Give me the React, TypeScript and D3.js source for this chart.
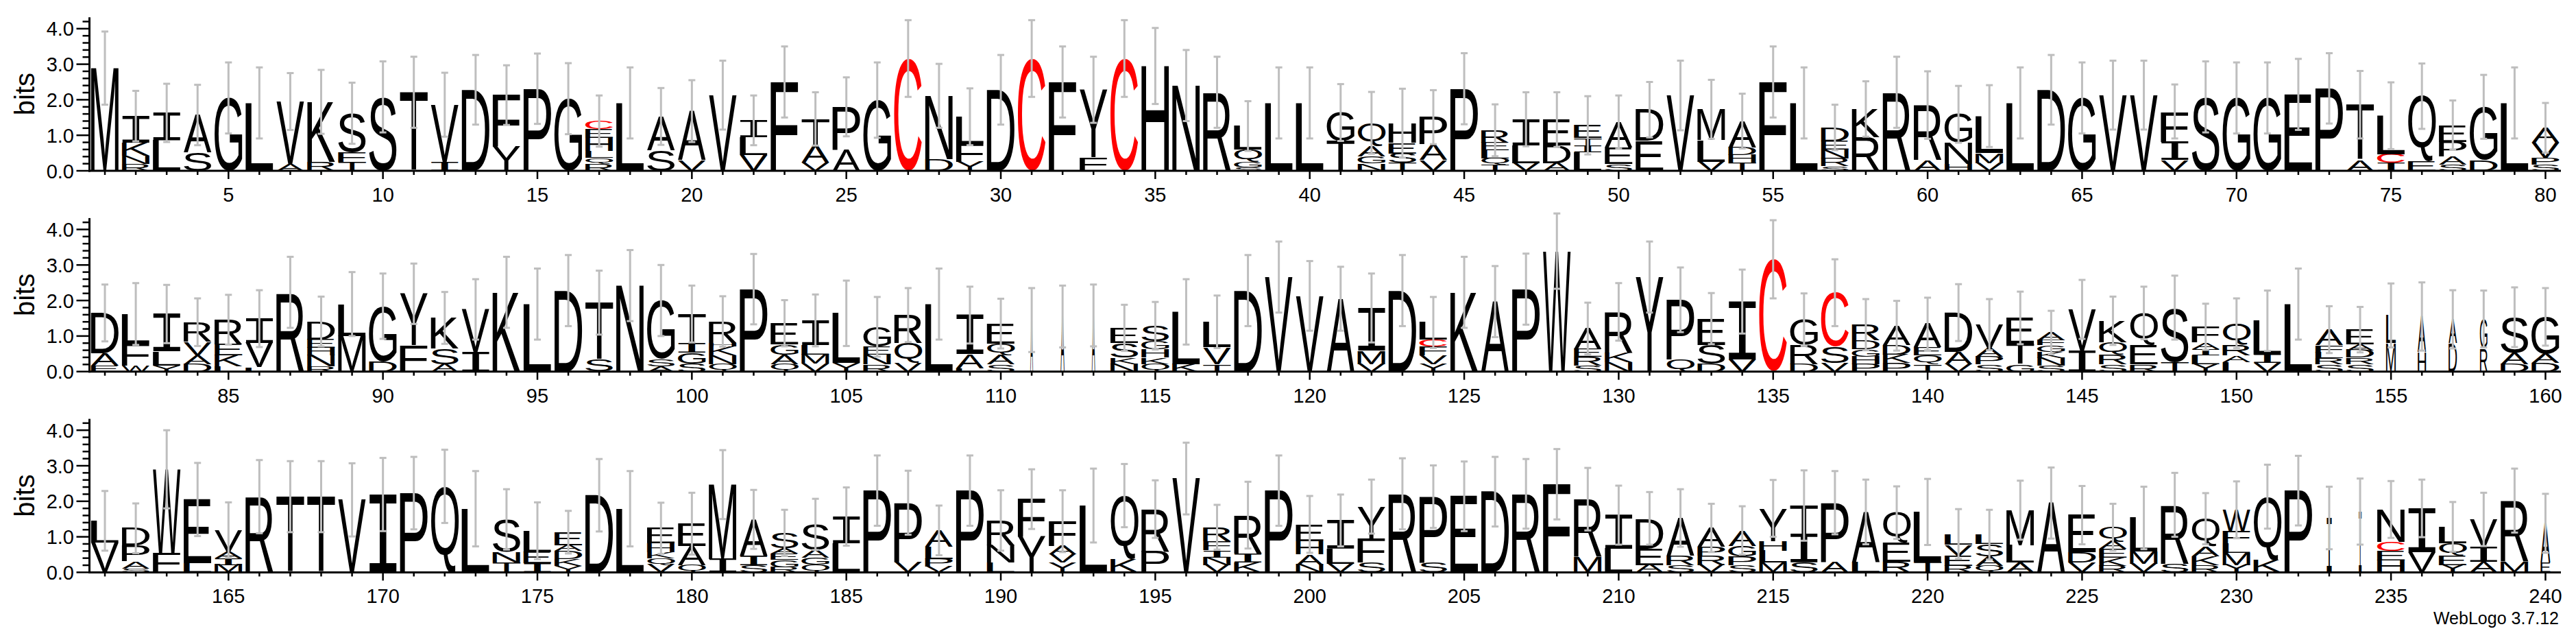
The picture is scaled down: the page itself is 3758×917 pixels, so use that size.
import React, { useMemo } from 'react';
import * as d3 from 'd3';

// Each column: letters bottom -> top, letter followed by its height in bits
const stacksRow1 = [
  'M2.89', 'R.2 N.22 K.38 I.74', 'L.86 I.77', 'S.52 A1.05', 'G2.05', 'L1.91', 'A.2 V1.75', 'R.26 K1.68', 'T.26 F.26 S1.1', 'S2.08',
  'T2.21', 'I.26 V1.6', 'D2.28', 'Y.68 F1.45', 'P2.31', 'G2.03', 'R.2 Q.16 L.2 H.37 E.25 C.22', 'L1.91', 'S.58 A.95', 'V.3 A1.38',
  'V2.13', 'V.45 L.5 I.47', 'F2.5', 'V.23 A.48 T.75', 'A.6 P1.2', 'G1.99', 'C3.16', 'D.33 N1.78', 'Y.26 F.5 L.76', 'D2.28',
  'C3.16', 'F2.5', 'F.38 Y1.9', 'C3.16', 'H2.95', 'N2.4', 'R2.21', 'S.1 G.15 Q.35 L.66', 'L1.91', 'L1.91',
  'T.84 G.8', 'N.2 G.2 A.3 Q.65', 'T.22 S.27 E.3 H.55', 'V.3 A.45 P.76', 'P2.31', 'T.17 Q.18 L.23 E.22 R.34', 'V.22 L.5 I.73', 'A.21 D.5 E.73', 'L.52 I.2 T.2 E.36', 'S.19 E.46 A.72',
  'E.84 D.88', 'V2.12', 'V.26 L.6 M.87', 'T.23 H.21 D.22 A.74', 'F2.5', 'L1.91', 'S.13 R.22 N.24 E.24 D.39', 'R.94 K.8', 'R2.21', 'A.3 R1.55',
  'H.19 N.6 G.8', 'V.22 M.28 L1.04', 'L1.91', 'D2.28', 'G2.05', 'V2.13', 'V2.13', 'V.3 I.52 F.85', 'S2.08', 'G2.05',
  'G2.05', 'E2.15', 'P2.32', 'A.3 T1.56', 'I.23 C.24 L1.08', 'E.26 Q1.84', 'S.17 A.23 P.42 E.47', 'D.3 G1.5', 'L1.91', 'S.17 P.2 V.43 A.41',
];
const stacksRow2 = [
  'E.17 A.34 D1.14', 'W.17 F.61 L.84', 'Y.17 L.4 I1.05', 'D.21 A.25 V.38 R.55', 'L.15 K.31 E.31 R.69', 'L.12 V.68 I.69', 'R2.23', 'R.15 N.31 H.21 E.24 D.5', 'M1.0 L.9', 'D.29 G1.55',
  'F.74 Y1.45', 'A.21 S.44 K.86', 'I.55 V1.2', 'K2.23', 'L1.9', 'D2.28', 'S.34 T1.6', 'N2.42', 'A.15 S.2 G1.65', 'S.22 G.31 I.28 T.81',
  'Q.21 N.25 K.24 H.1 R.61', 'P2.32', 'Q.21 A.26 G.29 E.6', 'V.22 M.26 L.27 I.69', 'Y.24 L1.4', 'R.21 N.26 E.23 G.56', 'V.24 Q.56 R.79', 'L1.9', 'L.1 A.39 I1.1', 'S.21 A.26 Q.32 E.56',
  'A1.45', 'A1.55', 'A1.58', 'N.21 K.18 S.42 E.42', 'Q.21 K.18 H.23 G.23 S.44', 'K.21 L1.47', 'T.21 V.47 L.72', 'D2.28', 'V2.66', 'V2.13',
  'A2.05', 'V.21 M.38 I1.2', 'D2.28', 'Y.21 V.25 F.24 C.2 L.48', 'K2.23', 'A1.97', 'P2.32', 'W3.39', 'S.17 R.24 E.22 A.58', 'N.27 K.27 R1.14',
  'Y2.66', 'Q.34 P1.68', 'D.21 S.54 E.74', 'V.34 I1.63', 'C3.16', 'D.21 R.54 G.71', 'V.24 S.46 C1.52', 'P.21 H.21 G.21 D.25 R.44', 'P.24 K.24 D.27 A.54', 'T.21 Q.25 E.22 A.66',
  'V.21 A.34 D1.11', 'S.21 P.21 A.24 V.66', 'G.21 T.57 E.73', 'S.17 N.21 K.18 G.18 F.15 A.21', 'I.6 V1.15', 'S.21 R.28 Q.34 K.6', 'R.21 E.54 Q.9', 'T.27 S1.53', 'Y.21 L.25 I.18 A.18 F.44', 'L.27 A.18 R.31 Q.6',
  'V.24 I.24 L.95', 'L1.9', 'S.21 R.17 L.16 F.2 A.44', 'S.21 R.18 D.21 A.16 E.42', 'M.8 L.78', 'H.55 A1.0', 'D.8 A.67', 'R.66 G.82', 'D.21 A.31 S1.01', 'D.24 A.27 G1.03',
];
const stacksRow3 = [
  'V.83 L.62', 'S.11 A.2 P.45 D.48', 'F.55 W2.35', 'L.25 E1.8', 'M.21 I.19 A.19 V.6', 'R2.13', 'T2.13', 'T2.13', 'V2.04', 'I2.19',
  'P2.23', 'Q2.42', 'L1.79', 'T.28 N.29 S.92', 'I.25 E.32 L.6', 'Y.18 K.2 D.22 A.17 E.36', 'D2.17', 'L1.79', 'V.21 Q.18 K.17 H.25 E.43', 'Q.21 A.53 E.63',
  'I.37 M2.1', 'S.21 I.27 A1.01', 'R.14 G.21 E.18 A.15 S.43', 'Q.21 G.21 A.21 S.72', 'L.82 I.75', 'P2.3', 'V.3 P1.66', 'V.17 P.21 L.34 A.46', 'P2.3', 'L.27 N.5 R.69',
  'Y1.01 F1.05', 'Y.27 V.24 A.24 F.69', 'L1.88', 'K.37 Q1.79', 'P.59 R1.19', 'V2.64', 'V.21 N.21 I.21 F.24 R.4', 'K.27 I.26 R1.08', 'P2.3', 'N.21 A.3 H.37 E.47',
  'V.24 L.43 I.79', 'S.27 F.66 Y.92', 'R2.21', 'S.27 P1.86', 'E2.14', 'D2.27', 'R2.21', 'F2.48', 'M.43 R1.63', 'L.66 I.95',
  'A.21 E.46 D.85', 'S.21 R.27 A1.05', 'V.21 R.27 P.24 A.53', 'S.21 P.24 G.3 A.43', 'M.27 L.34 H.27 Y.92', 'S.27 I.79 T.82', 'A.3 P1.66', 'L.3 A1.4', 'R.3 E.53 Q.85', 'T.3 L1.4',
  'R.19 E.29 V.3 L.3', 'Q.19 A.26 S.34 L.27', 'A.27 L.5 M.98', 'A1.95', 'V.27 D.29 E1.05', 'R.19 K.23 E.24 A.21 Q.4', 'V.24 M.34 L.95', 'S.24 R1.66', 'R.21 K.24 A.27 Q.79', 'Y.21 M.34 L.27 F.34 W.6',
  'K.34 Q1.79', 'P2.3', 'I1.53', 'I1.71', 'H.34 E.27 C.24 N.92', 'V.56 I1.24', 'Y.21 E.27 Q.34 L.46', 'A.3 I.43 V.76', 'M.3 R1.72', 'E.27 A1.11',
];

// Error bar half-lengths (bits), one per column
const errorsRow1 = [
  1.03, .71, .82, .85, 1.0, 1.0, .8, .9, .86, 1.0, 1.0, .9, .98, .84, .99, 1.0, .72, 1.0, .8, .87,
  .97, .7, 1.0, .75, .83, 1.06, 1.08, .9, .8, .98, 1.08, 1.0, .93, 1.08, 1.07, 1.0, 1.0, .7, 1.0, 1.0,
  .8, .87, .97, .76, 1.0, .73, .76, .77, .82, .75, .78, .98, .83, .77, 1.0, 1.0, .64, .78, 1.0, .95,
  .8, .87, 1.0, .98, 1.0, .97, .97, .76, 1.0, 1.0, 1.0, 1.0, .99, .95, .94, .92, .69, .9, 1.0, .7,
];
const errorsRow2 = [
  .8, .87, .82, .67, .7, .8, 1.0, .7, .9, .92, .85, .73, .85, 1.0, 1.0, 1.0, .9, 1.0, 1.0, .8,
  .71, .99, .65, .73, .92, .84, .76, 1.0, .8, .7, .9, .87, .87, .65, .67, .92, .74, 1.0, 1.0, .98,
  .9, .97, 1.0, .72, 1.0, 1.0, 1.0, 1.06, .73, .81, 1.0, .91, .72, .9, 1.1, .74, .94, .72, .7, .74,
  .8, .72, .74, .61, .83, .68, .74, .9, .65, .7, .85, 1.0, .66, .64, .9, .96, .82, .8, .84, .81,
];
const errorsRow3 = [
  .84, .7, 1.1, 1.03, .78, 1.03, 1.0, 1.0, 1.03, 1.03, 1.02, 1.03, 1.06, .85, .8, .6, 1.02, 1.06, .72, .87,
  .97, .83, .65, .72, .82, .99, .9, .7, .99, .85, .84, .87, 1.04, .89, .81, 1.01, .63, .94, .99, .8,
  .73, .76, 1.0, .88, .98, .98, .98, .99, .88, .83, .74, .81, .68, .68, .8, .99, .89, .91, .74, .93,
  .7, .7, .83, 1.0, .82, .66, .88, .9, .72, .8, .9, .98, .88, .93, .8, .81, .7, .75, .9, .83,
];

// Columns drawn narrower (position, width fraction)
const narrowColumns: [number, number][] = [
  [111, .1], [112, .14], [113, .12], [155, .35], [156, .3], [157, .3], [158, .27], [233, .18], [234, .1], [240, .35],
];

const W = 3758;
const H = 917;
const plotLeft = 130.5;
const plotRight = 3736;
const baselines = [249, 541.7, 834.4];
const bitPx = 51.8;
const maxBits = 4.32;
const perRow = 80;
const FONT = "'Liberation Sans', Arial, Helvetica, sans-serif";
// the logo's I has serifs
const SERIF_I = "'DejaVu Sans Mono', 'Liberation Mono', monospace";
const glyphFont = (ch: string) => (ch === 'I' ? SERIF_I : FONT);

type Glyph = { l: number; r: number; a: number; d: number };

function measureGlyphs(): Record<string, Glyph> {
  const out: Record<string, Glyph> = {};
  const ctx = document.createElement('canvas').getContext('2d');
  for (const ch of 'ACDEFGHIKLMNPQRSTVWY') {
    let g: Glyph = { l: -5, r: 62, a: 72, d: 0 };
    if (ctx) {
      ctx.font = `100px ${glyphFont(ch)}`;
      const m = ctx.measureText(ch);
      if (m.actualBoundingBoxRight) {
        g = { l: m.actualBoundingBoxLeft, r: m.actualBoundingBoxRight, a: m.actualBoundingBoxAscent, d: m.actualBoundingBoxDescent };
      }
    }
    out[ch] = g;
  }
  return out;
}

const parseStack = (s: string) => s.split(' ').map(t => ({ ch: t[0], h: +t.slice(1) }));

const App = () => {
  const glyphs = useMemo(() => measureGlyphs(), []);
  const rows = [
    { stacks: stacksRow1, errors: errorsRow1 },
    { stacks: stacksRow2, errors: errorsRow2 },
    { stacks: stacksRow3, errors: errorsRow3 },
  ];
  const narrow = new Map(narrowColumns);

  return (
    <svg width={W} height={H} style={{ position: 'absolute', left: 0, top: 0, background: '#fff' }}>
      {rows.map((row, r) => {
        const first = r * perRow + 1;
        const positions = d3.range(first, first + perRow);
        const x = d3.scaleBand<number>().domain(positions).range([plotLeft, plotRight]);
        const bw = x.bandwidth();
        const base = baselines[r];
        const y = d3.scaleLinear().domain([0, maxBits]).range([base, base - maxBits * bitPx]);
        const yTicks = d3.range(0, 22).map(i => i / 5);

        return (
          <g key={r}>
            {/* letters */}
            {positions.map((p, i) => {
              const stack = parseStack(row.stacks[i]);
              const lw = bw * 0.9 * (narrow.get(p) ?? 1);
              const x0 = x(p)! + (bw - lw) / 2;
              let acc = 0;
              return stack.map((s, j) => {
                const g = glyphs[s.ch];
                const yTop = y(acc + s.h);
                const hPx = y(acc) - yTop;
                acc += s.h;
                const sx = lw / (g.l + g.r);
                const sy = hPx / (g.a + g.d);
                return (
                  <text key={`${p}-${j}`} fontFamily={glyphFont(s.ch)} fontSize={100}
                    fill={s.ch === 'C' ? '#ff0000' : '#000'}
                    transform={`translate(${x0},${yTop}) scale(${sx},${sy}) translate(${g.l},${g.a})`}>
                    {s.ch}
                  </text>
                );
              });
            })}
            {/* error bars */}
            {positions.map((p, i) => {
              const total = d3.sum(parseStack(row.stacks[i]), d => d.h);
              const e = row.errors[i];
              const cx = x(p)! + bw / 2;
              const y1 = y(total + e);
              const y2 = y(Math.max(0, total - e));
              return (
                <g key={`e${p}`} stroke="#bebebe" strokeWidth={3}>
                  <line x1={cx} x2={cx} y1={y1} y2={y2} />
                  <line x1={cx - 5} x2={cx + 5} y1={y1} y2={y1} />
                  <line x1={cx - 5} x2={cx + 5} y1={y2} y2={y2} />
                </g>
              );
            })}
            {/* y axis */}
            <line x1={plotLeft} x2={plotLeft} y1={y(0) + 1.5} y2={y(maxBits)} stroke="#000" strokeWidth={3} />
            {yTicks.map((t, k) => (
              <line key={`yt${k}`} x1={plotLeft - (k % 5 === 0 ? 19 : 10)} x2={plotLeft} y1={y(t)} y2={y(t)} stroke="#000" strokeWidth={2.5} />
            ))}
            {yTicks.filter((_, k) => k % 5 === 0).map(t => (
              <text key={`yl${t}`} x={108} y={y(t) + 10.5} textAnchor="end" fontFamily={FONT} fontSize={29}>{t.toFixed(1)}</text>
            ))}
            <text transform={`translate(50,${y(maxBits / 2)}) rotate(-90)`} textAnchor="middle" fontFamily={FONT} fontSize={40}>bits</text>
            {/* x axis */}
            <line x1={plotLeft - 1.5} x2={plotRight} y1={base} y2={base} stroke="#000" strokeWidth={3} />
            {positions.map(p => (
              <line key={`xt${p}`} x1={x(p)! + bw / 2} x2={x(p)! + bw / 2} y1={base} y2={base + (p % 5 === 0 ? 12 : 6)} stroke="#000" strokeWidth={2.5} />
            ))}
            {positions.filter(p => p % 5 === 0).map(p => (
              <text key={`xl${p}`} x={x(p)! + bw / 2} y={base + 45} textAnchor="middle" fontFamily={FONT} fontSize={29}>{p}</text>
            ))}
          </g>
        );
      })}
      <text x={3733} y={910} textAnchor="end" fontFamily={FONT} fontSize={25}>WebLogo 3.7.12</text>
    </svg>
  );
};

export default App;
